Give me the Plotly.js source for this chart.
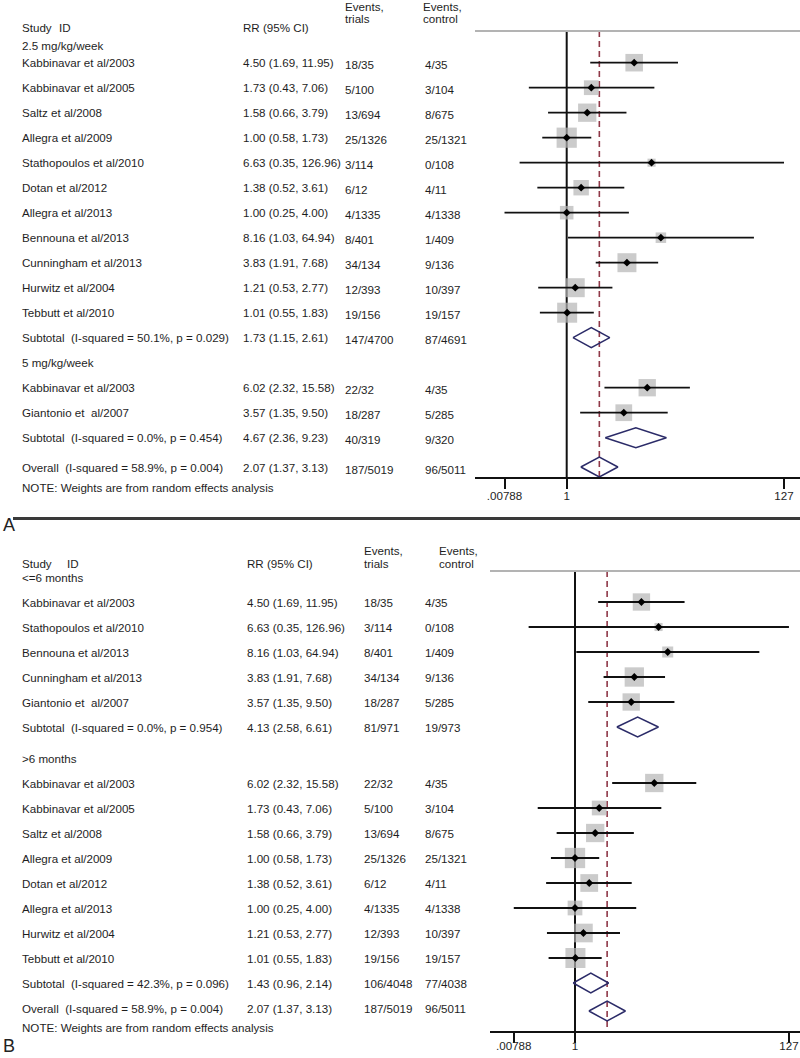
<!DOCTYPE html>
<html><head><meta charset="utf-8">
<script src="https://cdn.plot.ly/plotly-3.0.1.min.js"></script>
<style>html,body{margin:0;padding:0;background:#fff}#chart{width:800px;height:1058px}</style>
</head><body><div id="chart"></div>
<script>
// ================= DATA =================
// Panel A: by dose
const doseGroupLabels = ['2.5 mg/kg/week', '5 mg/kg/week'];
const doseStudy = ['Kabbinavar et al/2003','Kabbinavar et al/2005','Saltz et al/2008','Allegra et al/2009',
  'Stathopoulos et al/2010','Dotan et al/2012','Allegra et al/2013','Bennouna et al/2013',
  'Cunningham et al/2013','Hurwitz et al/2004','Tebbutt et al/2010',
  'Kabbinavar et al/2003','Giantonio et  al/2007'];
const doseGroup = [0,0,0,0,0,0,0,0,0,0,0,1,1];
const doseRR = [4.50,1.73,1.58,1.00,6.63,1.38,1.00,8.16,3.83,1.21,1.01,6.02,3.57];
const doseLo = [1.69,0.43,0.66,0.58,0.35,0.52,0.25,1.03,1.91,0.53,0.55,2.32,1.35];
const doseHi = [11.95,7.06,3.79,1.73,126.96,3.61,4.00,64.94,7.68,2.77,1.83,15.58,9.50];
const doseTrial = ['18/35','5/100','13/694','25/1326','3/114','6/12','4/1335','8/401','34/134','12/393','19/156','22/32','18/287'];
const doseControl = ['4/35','3/104','8/675','25/1321','0/108','4/11','4/1338','1/409','9/136','10/397','19/157','4/35','5/285'];
const doseWeight = [8.9,6.3,9.7,11.8,1.9,6.9,5.3,3.2,10.4,10.4,11.6,8.7,8.1];
const doseSubLabel = ['Subtotal  (I-squared = 50.1%, p = 0.029)','Subtotal  (I-squared = 0.0%, p = 0.454)'];
const doseSubRR = [1.73,4.67];
const doseSubLo = [1.15,2.36];
const doseSubHi = [2.61,9.23];
const doseSubTrial = ['147/4700','40/319'];
const doseSubControl = ['87/4691','9/320'];

// Panel B: by duration
const durGroupLabels = ['<=6 months', '>6 months'];
const durStudy = ['Kabbinavar et al/2003','Stathopoulos et al/2010','Bennouna et al/2013','Cunningham et al/2013','Giantonio et  al/2007',
  'Kabbinavar et al/2003','Kabbinavar et al/2005','Saltz et al/2008','Allegra et al/2009','Dotan et al/2012',
  'Allegra et al/2013','Hurwitz et al/2004','Tebbutt et al/2010'];
const durGroup = [0,0,0,0,0,1,1,1,1,1,1,1,1];
const durRR = [4.50,6.63,8.16,3.83,3.57,6.02,1.73,1.58,1.00,1.38,1.00,1.21,1.01];
const durLo = [1.69,0.35,1.03,1.91,1.35,2.32,0.43,0.66,0.58,0.52,0.25,0.53,0.55];
const durHi = [11.95,126.96,64.94,7.68,9.50,15.58,7.06,3.79,1.73,3.61,4.00,2.77,1.83];
const durTrial = ['18/35','3/114','8/401','34/134','18/287','22/32','5/100','13/694','25/1326','6/12','4/1335','12/393','19/156'];
const durControl = ['4/35','0/108','1/409','9/136','5/285','4/35','3/104','8/675','25/1321','4/11','4/1338','10/397','19/157'];
const durWeight = [8.7,1.9,3.5,10.8,8.7,9.7,6.3,9.7,11.9,9.1,6.3,10.1,11.6];
const durSubLabel = ['Subtotal  (I-squared = 0.0%, p = 0.954)','Subtotal  (I-squared = 42.3%, p = 0.096)'];
const durSubRR = [4.13,1.43];
const durSubLo = [2.58,0.96];
const durSubHi = [6.61,2.14];
const durSubTrial = ['81/971','106/4048'];
const durSubControl = ['19/973','77/4038'];

// Overall (same in both panels)
const overallLabel = 'Overall  (I-squared = 58.9%, p = 0.004)';
const overallRR = 2.07, overallLo = 1.37, overallHi = 3.13;
const overallTrial = '187/5019', overallControl = '96/5011';
const noteText = 'NOTE: Weights are from random effects analysis';

// Column headers and axis ticks
const headStudy = 'Study', headID = 'ID', headRR = 'RR (95% CI)';
const headTrial = ['Events,', 'trials'], headControl = ['Events,', 'control'];
const tickVals = [0.25, 1, 127];
const tickText = ['.00788', '1', '127'];
const panelLetters = ['A', 'B'];

// ================= DRAWING =================
const W = 800, H = 1058;
const FONT = 'Liberation Sans, Arial, Helvetica, sans-serif';
const FS = 11.6;
const TXT = '#1e1e1e';
const px = x => x / W;
const py = y => 1 - y / H;
const nb = s => s.replace(/ /g, '\u00a0');
const fmt = (r, l, h) => `${r.toFixed(2)} (${l.toFixed(2)}, ${h.toFixed(2)})`;

const traces = [];
const annotations = [];
const shapes = [];
const layout = {
  width: W, height: H, margin: {l:0, r:0, t:0, b:0},
  paper_bgcolor: '#fff', plot_bgcolor: '#fff', showlegend: false,
  font: {family: FONT, size: FS, color: TXT},
  annotations, shapes
};

function txt(x, y, s, extra) {
  annotations.push(Object.assign({
    xref: 'paper', yref: 'paper', x: px(x), y: py(y), text: nb(s),
    showarrow: false, xanchor: 'left', yanchor: 'middle',
    font: {family: FONT, size: FS, color: TXT}
  }, extra || {}));
}

function panel(cfg, d) {
  const xa = cfg.xa, ya = cfg.ya;
  const xKey = xa === 'x' ? 'xaxis' : 'xaxis' + xa.slice(1);
  const yKey = ya === 'y' ? 'yaxis' : 'yaxis' + ya.slice(1);
  layout[xKey] = {
    type: 'log', domain: [px(cfg.xLeft), 1],
    range: [-(cfg.x1 - cfg.xLeft) / cfg.pxPerDec, (W - cfg.x1) / cfg.pxPerDec],
    anchor: ya, showgrid: false, zeroline: false, showline: true, linecolor: '#111', linewidth: 2,
    ticks: 'outside', ticklen: 10, tickwidth: 2, tickcolor: '#111',
    tickmode: 'array', tickvals: tickVals, ticktext: tickText,
    tickfont: {family: FONT, size: FS, color: TXT}, ticklabelstandoff: cfg.standoff, fixedrange: true
  };
  layout[yKey] = {
    domain: [py(cfg.yAxis), py(cfg.yTop)], range: [cfg.yAxis, cfg.yTop],
    anchor: xa, visible: false, fixedrange: true
  };

  // headers
  txt(cfg.colTrialHead, cfg.hEv, headTrial[0]);
  txt(cfg.colTrialHead, cfg.hTr, headTrial[1]);
  txt(cfg.colControlHead, cfg.hEv, headControl[0]);
  txt(cfg.colControlHead, cfg.hTr, headControl[1]);
  txt(cfg.colStudy, cfg.hStudy, headStudy);
  txt(cfg.idX, cfg.hStudy, headID);
  txt(cfg.colRR, cfg.hStudy, headRR);

  // row positions
  const studyY = [], subY = [], labelY = [];
  let y = 0, lastSub = 0;
  d.groupLabels.forEach((g, gi) => {
    if (gi === 0) { labelY.push(cfg.labelY0); y = cfg.rowY0; }
    else { const ly = lastSub + cfg.groupGap; labelY.push(ly); y = ly + cfg.step; }
    d.group.forEach((gg, i) => { if (gg === gi) { studyY[i] = y; y += cfg.step; } });
    subY.push(y); lastSub = y;
  });
  const overallY = lastSub + cfg.overallGap;
  const noteY = overallY + cfg.noteGap;

  // text rows
  d.groupLabels.forEach((g, gi) => txt(cfg.colStudy, labelY[gi], g));
  d.study.forEach((s, i) => {
    txt(cfg.colStudy, studyY[i], s);
    txt(cfg.colRR, studyY[i], fmt(d.rr[i], d.lo[i], d.hi[i]));
    txt(cfg.colTrial, studyY[i] + cfg.evOff, d.trial[i]);
    txt(cfg.colControl, studyY[i] + cfg.evOff, d.control[i]);
  });
  d.subLabel.forEach((s, gi) => {
    txt(cfg.colStudy, subY[gi] + cfg.subOff, s);
    txt(cfg.colRR, subY[gi] + cfg.subOff, fmt(d.subRR[gi], d.subLo[gi], d.subHi[gi]));
    txt(cfg.colTrial, subY[gi] + cfg.evOff + cfg.subOff, d.subTrial[gi]);
    txt(cfg.colControl, subY[gi] + cfg.evOff + cfg.subOff, d.subControl[gi]);
  });
  txt(cfg.colStudy, overallY + cfg.ovOff, overallLabel);
  txt(cfg.colRR, overallY + cfg.ovOff, fmt(overallRR, overallLo, overallHi));
  txt(cfg.colTrial, overallY + cfg.evOff + cfg.ovOff, overallTrial);
  txt(cfg.colControl, overallY + cfg.evOff + cfg.ovOff, overallControl);
  txt(cfg.colStudy, noteY, noteText);

  // gray top rule
  shapes.push({type: 'line', xref: xa + ' domain', yref: 'paper', x0: 0, x1: 1,
    y0: py(cfg.yTop), y1: py(cfg.yTop), line: {color: '#b3b3b3', width: 2}});

  const base = {xaxis: xa, yaxis: ya, hoverinfo: 'skip', type: 'scatter'};
  // reference line at 1
  traces.push(Object.assign({}, base, {x: [1, 1], y: [cfg.yTop, cfg.yAxis], mode: 'lines',
    line: {color: '#111', width: 2}}));
  // dashed overall line
  traces.push(Object.assign({}, base, {x: [overallRR, overallRR], y: [cfg.yTop, cfg.yAxis], mode: 'lines',
    line: {color: '#8f3848', width: 1.6, dash: '6px,4px'}}));
  // weight squares
  traces.push(Object.assign({}, base, {x: d.rr, y: studyY, mode: 'markers', cliponaxis: false,
    marker: {symbol: 'square', size: d.weight.map(w => 5.88 * Math.sqrt(w)), color: '#b5b5b5', line: {width: 0}}}));
  // CI lines
  const cx = [], cy = [];
  d.rr.forEach((r, i) => { cx.push(d.lo[i], d.hi[i], null); cy.push(studyY[i], studyY[i], null); });
  traces.push(Object.assign({}, base, {x: cx, y: cy, mode: 'lines', line: {color: '#111', width: 1.8}}));
  // point estimates
  traces.push(Object.assign({}, base, {x: d.rr, y: studyY, mode: 'markers', cliponaxis: false,
    marker: {symbol: 'diamond', size: 6, color: '#000', line: {width: 0}}}));
  // pooled diamonds
  const dx = [], dy = [];
  const addDia = (r, l, h, yy) => { dx.push(l, r, h, r, l, null); dy.push(yy, yy - 10, yy, yy + 10, yy, null); };
  d.subRR.forEach((r, gi) => addDia(r, d.subLo[gi], d.subHi[gi], subY[gi]));
  addDia(overallRR, overallLo, overallHi, overallY);
  traces.push(Object.assign({}, base, {x: dx, y: dy, mode: 'lines', line: {color: '#2b2b68', width: 1.5}}));
}

panel({xa: 'x', ya: 'y', xLeft: 475, x1: 566.7, pxPerDec: 103.3, yTop: 31, yAxis: 477, standoff: -3,
  hEv: 7, hTr: 18.5, hStudy: 27.3, idX: 57,
  colStudy: 20, colRR: 241, colTrial: 343, colControl: 423, colTrialHead: 343, colControlHead: 421,
  evOff: 2, subOff: 0, ovOff: 0,
  labelY0: 45.7, rowY0: 62.7, step: 25, groupGap: 25, overallGap: 29.3, noteGap: 21},
  {groupLabels: doseGroupLabels, study: doseStudy, group: doseGroup, rr: doseRR, lo: doseLo, hi: doseHi,
   trial: doseTrial, control: doseControl, weight: doseWeight, subLabel: doseSubLabel, subRR: doseSubRR,
   subLo: doseSubLo, subHi: doseSubHi, subTrial: doseSubTrial, subControl: doseSubControl});

panel({xa: 'x2', ya: 'y2', xLeft: 490, x1: 575, pxPerDec: 101.7, yTop: 571, yAxis: 1031, standoff: -7,
  hEv: 550, hTr: 563, hStudy: 563, idX: 65,
  colStudy: 20, colRR: 245, colTrial: 362, colControl: 423, colTrialHead: 362, colControlHead: 437,
  evOff: 0, subOff: 0, ovOff: -3,
  labelY0: 577, rowY0: 602, step: 25, groupGap: 31, overallGap: 28, noteGap: 16},
  {groupLabels: durGroupLabels, study: durStudy, group: durGroup, rr: durRR, lo: durLo, hi: durHi,
   trial: durTrial, control: durControl, weight: durWeight, subLabel: durSubLabel, subRR: durSubRR,
   subLo: durSubLo, subHi: durSubHi, subTrial: durSubTrial, subControl: durSubControl});

// panel divider and letters
shapes.push({type: 'line', xref: 'paper', yref: 'paper', x0: px(13), x1: 1, y0: py(518.5), y1: py(518.5),
  line: {color: '#3a3a3a', width: 3}});
annotations.push({xref: 'paper', yref: 'paper', x: px(1), y: py(525), text: panelLetters[0], showarrow: false,
  xanchor: 'left', yanchor: 'middle', font: {family: FONT, size: 18, color: '#222'}});
annotations.push({xref: 'paper', yref: 'paper', x: px(1), y: py(1046), text: panelLetters[1], showarrow: false,
  xanchor: 'left', yanchor: 'middle', font: {family: FONT, size: 18, color: '#222'}});

Plotly.newPlot('chart', traces, layout, {displayModeBar: false, staticPlot: true});
</script></body></html>
